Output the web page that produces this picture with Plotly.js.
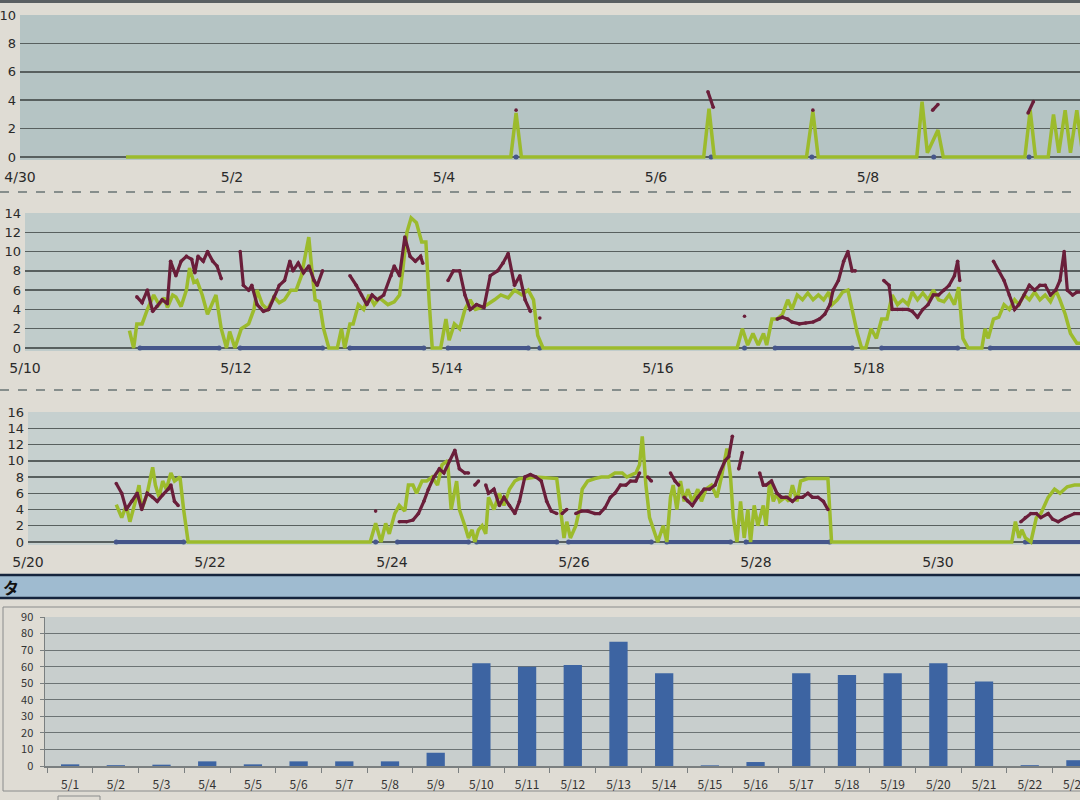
<!DOCTYPE html>
<html>
<head>
<meta charset="utf-8">
<script src="https://cdn.plot.ly/plotly-3.0.1.min.js"></script>
<style>
html,body{margin:0;padding:0;background:#dfdcd4;}
#chart{width:1080px;height:800px;}
</style>
</head>
<body>
<div id="chart"></div>
<script>
// ---------- Panel 1 (4/30 - 5/10), x = day of May ----------
var p1TickVals = [0, 2, 4, 6, 8, 10];
var p1TickText = ["4/30", "5/2", "5/4", "5/6", "5/8", "5/10"];
var p1GreenX = [1.0, 4.63, 4.68, 4.73, 6.45, 6.50, 6.55, 7.42, 7.48, 7.53, 8.46, 8.51, 8.56, 8.66, 8.71, 9.48, 9.53, 9.58, 9.70, 9.75, 9.80, 9.86, 9.91, 9.97, 10.02];
var p1GreenY = [0, 0, 3.1, 0, 0, 3.4, 0, 0, 3.2, 0, 0, 3.9, 0.3, 1.9, 0, 0, 3.3, 0, 0, 3.0, 0.3, 3.3, 0.3, 3.3, 0.5];
var p1RedX = [4.68, 5.5, 6.49, 6.54, 7.0, 7.48, 8.0, 8.61, 8.66, 9.0, 9.51, 9.56];
var p1RedY = [3.3, null, 4.6, 3.5, null, 3.3, null, 3.3, 3.7, null, 3.1, 3.9];
var p1NavyX = [4.68, 6.52, 7.47, 8.62, 9.52];
var p1NavyY = [0, 0, 0, 0, 0];

// ---------- Panel 2 (5/10 - 5/20) ----------
var p2TickVals = [10, 12, 14, 16, 18, 20];
var p2TickText = ["5/10", "5/12", "5/14", "5/16", "5/18", "5/20"];
var p2GreenX = [10.99, 11.03, 11.06, 11.11, 11.16, 11.22, 11.27, 11.32, 11.35, 11.40, 11.43, 11.48, 11.53, 11.56, 11.60, 11.63, 11.68, 11.73, 11.81, 11.86, 11.91, 11.94, 11.99,
  12.05, 12.12, 12.17, 12.20, 12.25, 12.30, 12.36, 12.41, 12.46, 12.52, 12.57, 12.62, 12.69, 12.72, 12.75, 12.79, 12.83, 12.88, 12.96, 13.00, 13.03,
  13.08, 13.11, 13.16, 13.21, 13.26, 13.31, 13.36, 13.44, 13.50, 13.55, 13.58, 13.62, 13.66, 13.71, 13.76, 13.80, 13.83, 13.86, 13.94, 13.99,
  14.02, 14.07, 14.12, 14.17, 14.22, 14.27, 14.32, 14.38, 14.45, 14.51, 14.58, 14.64, 14.71, 14.77, 14.82, 14.86, 14.91,
  16.75, 16.80, 16.85, 16.90, 16.95, 17.00, 17.03, 17.08, 17.13, 17.18, 17.23, 17.27, 17.32, 17.37, 17.42, 17.47, 17.52, 17.57, 17.62, 17.65, 17.70, 17.75, 17.80, 17.84, 17.89, 17.93, 17.97,
  18.02, 18.07, 18.12, 18.17, 18.22, 18.27, 18.32, 18.37, 18.41, 18.46, 18.51, 18.56, 18.61, 18.66, 18.71, 18.76, 18.81, 18.85, 18.89, 18.94,
  19.07, 19.10, 19.13, 19.18, 19.23, 19.28, 19.33, 19.38, 19.42, 19.47, 19.52, 19.57, 19.62, 19.67, 19.72, 19.77, 19.81, 19.86, 19.91, 19.97, 20.05];
var p2GreenY = [1.8, 0, 2.5, 2.5, 4, 5.5, 4.5, 5.2, 4.2, 5.5, 5.3, 4.3, 6, 8.3, 6.8, 7, 5.5, 3.5, 5.5, 2, 0, 1.7, 0,
  2, 2.5, 4, 6, 4.5, 4, 5.3, 4.7, 5, 6, 6, 7.5, 11.5, 8, 5, 4.8, 2, 0, 0, 2, 0,
  2.5, 2.5, 4.5, 4, 5.5, 4.5, 5.2, 4.5, 4.8, 5.5, 8, 12, 13.5, 13, 11, 11, 5, 0, 0, 3,
  0.8, 2.5, 2, 4, 5, 4, 4.2, 4.5, 5, 5.5, 5.2, 6, 5.5, 6, 5, 1.3, 0,
  0, 2, 0.3, 1.5, 0.3, 1.5, 0.3, 3, 3, 3.5, 5, 4, 5.5, 5, 5.7, 5, 5.5, 5, 5.8, 4.5, 5, 5.8, 6, 4, 1.5, 0, 0,
  2, 1, 3, 3, 5.5, 4.5, 5, 4.5, 5.8, 5, 5.7, 5, 6, 5, 4.8, 5.5, 4.5, 6.3, 1, 0,
  0, 2, 1, 3, 3.2, 4.5, 4, 5, 4.5, 5.5, 5, 5.8, 5, 5.5, 4.8, 6, 5, 3.5, 1.5, 0.5, 0.5];
var p2RedX = [11.06, 11.11, 11.16, 11.21, 11.25, 11.30, 11.35, 11.38, 11.43, 11.48, 11.53, 11.58, 11.61, 11.64, 11.69, 11.73, 11.78, 11.82, 11.86, 11.95,
  12.04, 12.07, 12.12, 12.15, 12.20, 12.26, 12.31, 12.36, 12.41, 12.46, 12.51, 12.54, 12.59, 12.64, 12.69, 12.74, 12.77, 12.82, 12.95,
  13.08, 13.14, 13.19, 13.24, 13.29, 13.34, 13.40, 13.47, 13.50, 13.55, 13.60, 13.65, 13.70, 13.75, 13.77, 13.90,
  14.01, 14.06, 14.12, 14.17, 14.22, 14.28, 14.35, 14.41, 14.48, 14.53, 14.58, 14.64, 14.69, 14.74, 14.79, 14.84, 14.88, 15.5, 16.82, 17.0,
  17.13, 17.18, 17.23, 17.27, 17.34, 17.40, 17.47, 17.53, 17.58, 17.63, 17.66, 17.71, 17.76, 17.80, 17.84, 17.87, 18.0,
  18.14, 18.19, 18.22, 18.27, 18.32, 18.37, 18.41, 18.46, 18.51, 18.56, 18.61, 18.66, 18.71, 18.76, 18.81, 18.84, 18.86, 19.0,
  19.18, 19.23, 19.28, 19.33, 19.38, 19.42, 19.47, 19.52, 19.57, 19.62, 19.67, 19.72, 19.77, 19.81, 19.85, 19.88, 19.93, 19.97, 20.05];
var p2RedY = [5.3, 4.7, 6, 3.8, 4.3, 5, 4.6, 9, 7.5, 9, 9.5, 9.2, 7.8, 9.5, 9, 10, 9, 8.5, 7.2, null,
  10, 6.5, 6, 6.5, 4.5, 3.8, 4, 5.3, 6.5, 7, 9, 8, 8.8, 7.8, 8.5, 7, 6.5, 8, null,
  7.5, 6.5, 5.5, 4.5, 5.5, 5, 5.5, 7.5, 8.5, 7.5, 11.5, 9.5, 9, 9.5, 8.8, null,
  7, 8, 8, 5.5, 4, 4.5, 4.2, 7.5, 8, 8.8, 9.8, 6.5, 7.5, 5, 3.8, null, 3.1, null, 3.3, null,
  3, 3.2, 3, 2.7, 2.5, 2.6, 2.7, 3, 3.5, 4.5, 6, 7, 9, 10, 8, 8, null,
  7, 6.5, 4, 4, 4, 4, 3.8, 3.2, 4, 4.5, 5.5, 5.5, 6, 6.5, 7.5, 9, 7, null,
  9, 8, 7, 5.5, 4, 4.5, 5.5, 6.5, 6, 6.5, 6.5, 5.5, 6, 7, 10, 6, 5.5, 5.8, 5.8];
var p2NavyX = [11.09, 11.84, 11.95, 12.04, 12.82, 12.95, 13.08, 13.78, 13.9, 14.01, 14.77, 14.83, 14.88, 15.5, 16.82, 17.0, 17.11, 17.84, 18.0, 18.12, 18.84, 19.0, 19.15, 20.05];
var p2NavyY = [0, 0, null, 0, 0, null, 0, 0, null, 0, 0, null, 0, null, 0, null, 0, 0, null, 0, 0, null, 0, 0];

// ---------- Panel 3 (5/20 - 5/31) ----------
var p3TickVals = [20, 22, 24, 26, 28, 30];
var p3TickText = ["5/20", "5/22", "5/24", "5/26", "5/28", "5/30"];
var p3GreenX = [20.97, 21.03, 21.08, 21.12, 21.18, 21.22, 21.25, 21.31, 21.37, 21.40, 21.44, 21.48, 21.52, 21.57, 21.61, 21.67, 21.71, 21.76,
  23.76, 23.82, 23.88, 23.93, 23.97, 24.03, 24.08, 24.14, 24.18, 24.23, 24.27, 24.33, 24.38, 24.44, 24.50, 24.55, 24.61, 24.65, 24.71, 24.74, 24.80, 24.84, 24.88, 24.91, 24.95, 24.99,
  25.03, 25.06, 25.12, 25.18, 25.23, 25.29, 25.35, 25.40, 25.48, 25.58, 25.81, 25.85, 25.89, 25.92, 25.96,
  26.02, 26.06, 26.09, 26.15, 26.23, 26.30, 26.38, 26.45, 26.53, 26.58, 26.68, 26.72, 26.75, 26.79, 26.83, 26.89, 26.92, 26.98,
  27.02, 27.06, 27.09, 27.13, 27.17, 27.21, 27.25, 27.30, 27.36, 27.40, 27.45, 27.51, 27.57, 27.62, 27.68, 27.72, 27.75, 27.79, 27.83, 27.87, 27.91, 27.94, 27.98,
  28.02, 28.08, 28.11, 28.15, 28.19, 28.23, 28.26, 28.32, 28.36, 28.40, 28.45, 28.49, 28.57, 28.79, 28.83,
  30.81, 30.85, 30.89, 30.92, 30.96, 31.02, 31.08, 31.13, 31.21, 31.28, 31.34, 31.42, 31.50, 31.6];
var p3GreenY = [4.6, 3, 4.5, 2.5, 5, 7, 4, 6, 9.2, 7, 5.5, 7.5, 6.5, 8.5, 7.5, 8, 4, 0,
  0, 2.3, 0, 2.3, 1, 3.5, 4.5, 3.8, 7, 7, 6, 7.5, 7.5, 8, 7, 9.5, 10, 4, 7.5, 4, 2, 0.5, 1.5, 0, 1.5, 2,
  1, 5.5, 4, 6, 4.5, 6.5, 7.5, 7.8, 7.8, 8, 7.8, 4, 0.5, 2.5, 0.5,
  2, 4, 6.5, 7.5, 7.8, 8, 8, 8.5, 8.5, 8, 8.5, 9.5, 13, 7, 3, 1, 0, 2,
  0, 5.5, 7, 4, 7.5, 5, 6.5, 5, 6.5, 5, 6.5, 7, 5.5, 8, 11.5, 8, 3, 0, 5, 0.5, 4, 0, 4.5,
  2, 4.5, 2, 7.5, 5, 6, 5, 5.5, 5, 7, 5, 7.5, 7.8, 7.8, 0,
  0, 2.5, 0.5, 1.5, 0.5, 0, 3, 3.5, 5.5, 6.5, 6, 6.8, 7, 7];
var p3RedX = [20.97, 21.03, 21.08, 21.14, 21.20, 21.25, 21.31, 21.37, 21.42, 21.48, 21.54, 21.57, 21.61, 21.65, 22.5, 23.82, 24.0,
  24.08, 24.16, 24.23, 24.29, 24.35, 24.40, 24.46, 24.52, 24.57, 24.63, 24.69, 24.74, 24.80, 24.84, 24.88, 24.91, 24.95, 24.99,
  25.03, 25.06, 25.12, 25.18, 25.23, 25.29, 25.35, 25.40, 25.46, 25.52, 25.58, 25.64, 25.70, 25.75, 25.81, 25.84, 25.87, 25.92, 25.97,
  26.02, 26.08, 26.15, 26.23, 26.28, 26.34, 26.40, 26.45, 26.51, 26.57, 26.62, 26.68, 26.72, 26.77, 26.81, 26.85, 26.95,
  27.06, 27.11, 27.15, 27.18, 27.21, 27.25, 27.30, 27.36, 27.43, 27.49, 27.55, 27.60, 27.66, 27.70, 27.74, 27.78, 27.81, 27.85, 27.95,
  28.04, 28.08, 28.11, 28.17, 28.23, 28.28, 28.34, 28.40, 28.45, 28.51, 28.57, 28.62, 28.68, 28.74, 28.79, 29.5,
  30.91, 30.96, 31.02, 31.08, 31.13, 31.21, 31.26, 31.32, 31.40, 31.50, 31.6];
var p3RedY = [7.2, 6, 4, 5, 6, 4, 6, 5.5, 5, 5.8, 6.5, 7, 5, 4.5, null, 3.8, null,
  2.5, 2.5, 2.7, 3.5, 5, 6.5, 8, 9, 8.5, 10, 11.3, 9, 8.5, 8.5, null, 7, 7.5, null,
  7, 6, 6.5, 4.5, 5.5, 4.5, 3.5, 5, 8, 8.3, 8, 7.5, 5, 3.8, 3.5, null, 3.5, 4, null,
  3.5, 3.8, 3.8, 3.5, 3.5, 4.2, 5.5, 6, 7, 7, 7.5, 7.5, 8.5, null, 8, 7.5, null,
  8.5, 7.5, 7, null, 5.5, 5, 4.5, 5.5, 6.5, 6.5, 7, 8.5, 10, 10.5, 13, null, 9, 11, null,
  8.5, 7, 7, 7.5, 6, 5.5, 5.5, 5, 5.5, 5.5, 6, 5.5, 5.5, 5, 4, null,
  2.5, 3, 3.5, 3.5, 3, 3.5, 2.8, 2.5, 3, 3.5, 3.5];
var p3NavyX = [20.97, 21.71, 22.5, 23.82, 24.0, 24.06, 24.84, 24.88, 24.93, 25.81, 25.88, 25.94, 26.85, 26.95, 27.02, 27.72, 27.8, 27.89, 28.81, 29.5, 30.96, 31.6];
var p3NavyY = [0, 0, null, 0, null, 0, 0, null, 0, 0, null, 0, 0, null, 0, 0, null, 0, 0, null, 0, 0];

// ---------- Panel 4 (daily bars) ----------
var barCategories = ["5/1", "5/2", "5/3", "5/4", "5/5", "5/6", "5/7", "5/8", "5/9", "5/10", "5/11", "5/12", "5/13", "5/14", "5/15", "5/16", "5/17", "5/18", "5/19", "5/20", "5/21", "5/22", "5/23"];
var barValues = [1, 0.5, 0.8, 2.8, 1, 2.8, 2.8, 2.8, 8, 62, 60, 61, 75, 56, 0.4, 2.4, 56, 55, 56, 62, 51, 0.5, 3.5];
var headerText = "タ";

// ---------- styles ----------
var GREEN = "#9cbb2c", RED = "#6a1e3a", NAVY = "#46568a";
var W = 1080, H = 800;
function px(x) { return x / W; }
function py(y) { return 1 - y / H; }

function lineTraces(gx, gy, rx, ry, nx, ny, xa, ya, navyMarkersOnly) {
  return [
    {x: nx, y: ny, xaxis: xa, yaxis: ya, type: "scatter", mode: navyMarkersOnly ? "markers" : "lines+markers",
     line: {color: NAVY, width: 4}, marker: {color: NAVY, size: 5}, hoverinfo: "skip", showlegend: false},
    {x: gx, y: gy, xaxis: xa, yaxis: ya, type: "scatter", mode: "lines",
     line: {color: GREEN, width: 3.5}, hoverinfo: "skip", showlegend: false},
    {x: rx, y: ry, xaxis: xa, yaxis: ya, type: "scatter", mode: "lines+markers",
     line: {color: RED, width: 3.2}, marker: {color: RED, size: 3.6}, hoverinfo: "skip", showlegend: false}
  ];
}

var data = [].concat(
  lineTraces(p1GreenX, p1GreenY, p1RedX, p1RedY, p1NavyX, p1NavyY, "x", "y", true),
  lineTraces(p2GreenX, p2GreenY, p2RedX, p2RedY, p2NavyX, p2NavyY, "x2", "y2", false),
  lineTraces(p3GreenX, p3GreenY, p3RedX, p3RedY, p3NavyX, p3NavyY, "x3", "y3", false),
  [{x: barCategories, y: barValues, xaxis: "x4", yaxis: "y4", type: "bar",
    marker: {color: "#3d64a2"}, hoverinfo: "skip", showlegend: false}]
);

var tickFont = {family: "DejaVu Sans, sans-serif", size: 14, color: "#2a2a2a"};
var yTickFont = {family: "DejaVu Sans, sans-serif", size: 13, color: "#2a2a2a"};
var GRID = "#58605f";

function lineX(domainL, range, vals, text, anchor) {
  return {domain: [domainL, 1], range: range, tickmode: "array", tickvals: vals, ticktext: text,
    showgrid: false, zeroline: false, showline: false, ticks: "", ticklabelstandoff: 7,
    tickfont: tickFont, anchor: anchor, fixedrange: true};
}
function lineY(dom, lo, max, anchor) {
  return {domain: dom, range: [lo, max], tick0: 0, dtick: 2, showgrid: true, gridcolor: GRID, gridwidth: 1.5,
    zeroline: false, showline: false, ticks: "", ticklabelstandoff: 3, tickfont: yTickFont,
    anchor: anchor, fixedrange: true};
}

// zero line sits a few pixels above the bottom edge of each plot area
var d1 = [py(160), py(15)], d2 = [py(351), py(213)], d3 = [py(545), py(412)], d4 = [py(766), py(617)];

var layout = {
  width: W, height: H,
  margin: {l: 0, r: 0, t: 0, b: 0, pad: 0},
  paper_bgcolor: "#dfdcd4",
  plot_bgcolor: "#c3cdcc",
  bargap: 0.6,
  xaxis: lineX(px(20), [0, 10], p1TickVals, p1TickText, "y"),
  yaxis: lineY(d1, -0.21, 10, "x"),
  xaxis2: lineX(px(25), [10, 20], p2TickVals, p2TickText, "y2"),
  yaxis2: lineY(d2, -0.31, 14, "x2"),
  xaxis3: lineX(px(28), [20, 31.56], p3TickVals, p3TickText, "y3"),
  yaxis3: lineY(d3, -0.37, 16, "x3"),
  xaxis4: {domain: [px(45), 1], range: [-0.55, 22.1], type: "category", anchor: "y4",
    showgrid: false, zeroline: false, showline: true, linecolor: "#7a7f80", linewidth: 1.5,
    ticks: "outside", tickson: "boundaries", ticklen: 5, tickcolor: "#7a7f80",
    ticklabelstandoff: 7,
    tickfont: {family: "Noto Sans CJK JP, sans-serif", size: 12, color: "#333"}, fixedrange: true},
  yaxis4: {domain: d4, range: [0, 90], tick0: 0, dtick: 10, anchor: "x4",
    showgrid: true, gridcolor: "#6c7374", gridwidth: 1, zeroline: false,
    showline: true, linecolor: "#7a7f80", linewidth: 1.5, ticks: "outside", ticklen: 4, tickcolor: "#7a7f80",
    ticklabelstandoff: 4,
    tickfont: {family: "Noto Sans CJK JP, sans-serif", size: 11, color: "#333"}, fixedrange: true},
  shapes: [
    {type: "rect", xref: "x domain", yref: "y domain", x0: 0, x1: 1, y0: 0, y1: 1, fillcolor: "#b5c4c4", line: {width: 0}, layer: "below"},
    {type: "rect", xref: "x2 domain", yref: "y2 domain", x0: 0, x1: 1, y0: 0, y1: 1, fillcolor: "#c0cccb", line: {width: 0}, layer: "below"},
    {type: "rect", xref: "x3 domain", yref: "y3 domain", x0: 0, x1: 1, y0: 0, y1: 1, fillcolor: "#c6d0cf", line: {width: 0}, layer: "below"},
    {type: "rect", xref: "x4 domain", yref: "y4 domain", x0: 0, x1: 1, y0: 0, y1: 1, fillcolor: "#c8cecd", line: {width: 0}, layer: "below"},
    {type: "rect", xref: "paper", yref: "paper", x0: 0, x1: 1, y0: py(3), y1: 1, fillcolor: "#5a5f62", line: {width: 0}},
    {type: "line", xref: "paper", yref: "paper", x0: 0, x1: 1, y0: py(192), y1: py(192), line: {color: "#6a7474", width: 1.5, dash: "dash"}},
    {type: "line", xref: "paper", yref: "paper", x0: 0, x1: 1, y0: py(390), y1: py(390), line: {color: "#6a7474", width: 1.5, dash: "dash"}},
    {type: "rect", xref: "paper", yref: "paper", x0: 0, x1: 1, y0: py(598), y1: py(575), fillcolor: "#9fbbd0", line: {width: 0}},
    {type: "line", xref: "paper", yref: "paper", x0: 0, x1: 1, y0: py(575), y1: py(575), line: {color: "#15243c", width: 2.5}},
    {type: "line", xref: "paper", yref: "paper", x0: 0, x1: 1, y0: py(598), y1: py(598), line: {color: "#15243c", width: 2.5}},
    {type: "rect", xref: "paper", yref: "paper", x0: px(3), x1: px(1090), y0: py(791), y1: py(607), fillcolor: "rgba(0,0,0,0)", line: {color: "#8a8c8c", width: 1}, layer: "below"},
    {type: "rect", xref: "paper", yref: "paper", x0: px(58), x1: px(100), y0: py(803), y1: py(796), fillcolor: "rgba(0,0,0,0)", line: {color: "#8a8c8c", width: 1}}
  ],
  annotations: [
    {xref: "paper", yref: "paper", x: px(1), y: py(586.5), xanchor: "left", yanchor: "middle", showarrow: false,
     text: "<b>" + headerText + "</b>", font: {family: "Noto Sans CJK JP, sans-serif", size: 16, color: "#111"}}
  ]
};

Plotly.newPlot("chart", data, layout, {staticPlot: true, displayModeBar: false});
</script>
</body>
</html>
